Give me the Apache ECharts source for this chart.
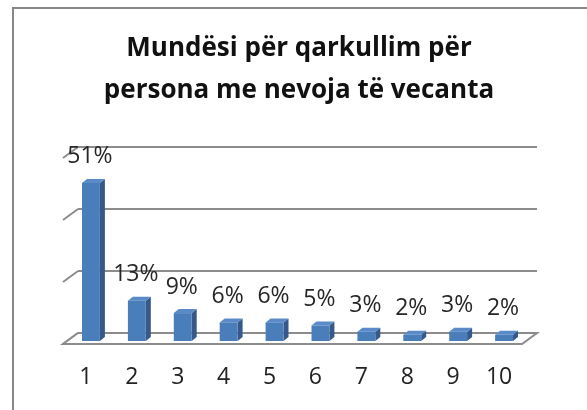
<!DOCTYPE html>
<html>
  <head>
    <meta charset="utf-8" />
    <title>Mundësi për qarkullim</title>
    <script src="https://cdn.jsdelivr.net/npm/echarts@6/dist/echarts.min.js"></script>
    <style>
      html, body { margin: 0; padding: 0; background: #fff; }
    </style>
  </head>
  <body>
    <div id="chart" style="width: 587px; height: 410px"></div>

    <script type="text/javascript">
// Data
const categories = ['1', '2', '3', '4', '5', '6', '7', '8', '9', '10'];
const values = [0.51, 0.13, 0.09, 0.06, 0.06, 0.05, 0.03, 0.02, 0.03, 0.02];
const gridLevels = [0, 0.2, 0.4, 0.6];

const font = "'Open Sans', 'Noto Sans', sans-serif";
const lineGray = '#8c8c8c';
// 3D depth of the floor / left wall (front edge relative to the back wall)
const depthX = -15;
const depthY = 11;

var option = {
  animation: false,
  backgroundColor: '#fff',
  title: {
    text: 'Mundësi për qarkullim për\npersona me nevoja të vecanta',
    left: 299,
    top: 28,
    textAlign: 'center',
    padding: 0,
    textStyle: {
      fontFamily: font,
      fontSize: 26,
      fontWeight: 'bold',
      lineHeight: 42,
      color: '#111'
    }
  },
  graphic: [{
    type: 'rect',
    shape: { x: 13, y: 8, width: 700, height: 500 },
    style: { fill: 'none', stroke: '#878787', lineWidth: 2 },
    silent: true
  }],
  grid: [
    // back wall (gridlines)
    { left: 78, top: 147, width: 459, height: 186 },
    // front faces of the bars
    { left: 68, top: 155, width: 459, height: 186 },
    // front edge of the floor (category labels)
    { left: 63, top: 158, width: 459, height: 186 }
  ],
  xAxis: [
    { type: 'value', gridIndex: 0, min: 0, max: 10, show: false },
    { type: 'category', gridIndex: 1, data: categories, show: false },
    {
      type: 'category',
      gridIndex: 2,
      data: categories,
      axisLine: { show: false },
      axisTick: { show: false },
      axisLabel: { margin: 22, fontSize: 23, fontFamily: font, color: '#222' }
    }
  ],
  yAxis: [
    {
      type: 'value',
      gridIndex: 0,
      min: 0,
      max: 0.6,
      interval: 0.2,
      axisLine: { show: false },
      axisTick: { show: false },
      axisLabel: { show: false },
      splitLine: { lineStyle: { color: lineGray, width: 2 } }
    },
    { type: 'value', gridIndex: 1, min: 0, max: 0.6, show: false },
    { type: 'value', gridIndex: 2, min: 0, max: 0.6, show: false }
  ],
  series: [
    {
      // left wall: short slanted lines continuing each gridline
      type: 'custom',
      xAxisIndex: 0,
      yAxisIndex: 0,
      data: gridLevels.map((v) => [0, v]),
      renderItem: function (params, api) {
        const p = api.coord([0, api.value(1)]);
        return {
          type: 'line',
          shape: { x1: p[0], y1: p[1], x2: p[0] + depthX, y2: p[1] + depthY },
          style: { stroke: lineGray, lineWidth: 2 }
        };
      }
    },
    {
      // floor
      type: 'custom',
      xAxisIndex: 0,
      yAxisIndex: 0,
      data: [[0, 0]],
      renderItem: function (params, api) {
        const a = api.coord([0, 0]);
        const b = api.coord([10, 0]);
        return {
          type: 'polygon',
          shape: {
            points: [a, b, [b[0] + depthX, b[1] + depthY], [a[0] + depthX, a[1] + depthY]]
          },
          style: { fill: '#fff', stroke: lineGray, lineWidth: 2 }
        };
      }
    },
    {
      // 3D bars
      type: 'custom',
      xAxisIndex: 1,
      yAxisIndex: 1,
      data: values.map((v, i) => [i, v]),
      renderItem: function (params, api) {
        const top = api.coord([api.value(0), api.value(1)]);
        const base = api.coord([api.value(0), 0]);
        const w = api.size([1, 0])[0] * 0.39;
        const dx = 5;
        const dy = -4;
        const x0 = top[0] - w / 2;
        const x1 = x0 + w;
        return {
          type: 'group',
          children: [
            {
              type: 'polygon',
              shape: { points: [[x1, top[1]], [x1 + dx, top[1] + dy], [x1 + dx, base[1] + dy], [x1, base[1]]] },
              style: { fill: '#36598a' }
            },
            {
              type: 'polygon',
              shape: { points: [[x0, top[1]], [x0 + dx, top[1] + dy], [x1 + dx, top[1] + dy], [x1, top[1]]] },
              style: { fill: '#5a8bc8' }
            },
            {
              type: 'rect',
              shape: { x: x0, y: top[1], width: w, height: base[1] - top[1] },
              style: { fill: '#4a7ebb' }
            },
            {
              type: 'text',
              x: top[0] - 1,
              y: top[1] - 26,
              style: {
                text: Math.round(api.value(1) * 100) + '%',
                fontFamily: font,
                fontSize: 23,
                fill: '#262626',
                align: 'center',
                verticalAlign: 'middle'
              }
            }
          ]
        };
      }
    }
  ]
};

const chart = echarts.init(document.getElementById('chart'));
chart.setOption(option);
    </script>
  </body>
</html>
